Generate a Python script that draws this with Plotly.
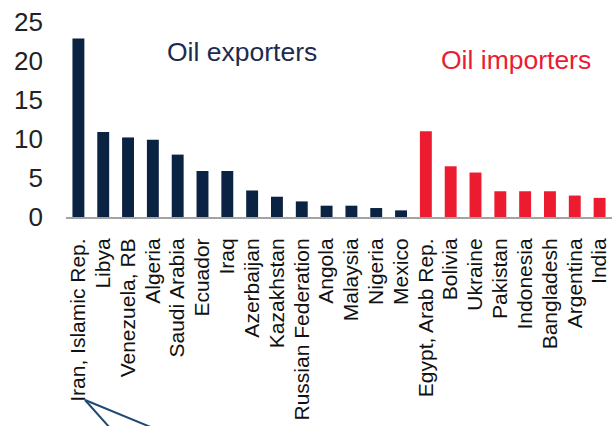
import plotly.graph_objects as go

exporters = ["Iran, Islamic Rep.", "Libya", "Venezuela, RB", "Algeria", "Saudi Arabia",
             "Ecuador", "Iraq", "Azerbaijan", "Kazakhstan", "Russian Federation",
             "Angola", "Malaysia", "Nigeria", "Mexico"]
exporter_values = [22.9, 10.9, 10.2, 9.9, 8.0, 5.9, 5.9, 3.4, 2.6, 2.0, 1.45, 1.45, 1.15, 0.85]

importers = ["Egypt, Arab Rep.", "Bolivia", "Ukraine", "Pakistan", "Indonesia",
             "Bangladesh", "Argentina", "India"]
importer_values = [11.0, 6.5, 5.7, 3.3, 3.3, 3.3, 2.75, 2.45]

y_ticks = [0, 5, 10, 15, 20, 25]

NAVY = "#0b2343"
RED = "#ec1b30"
W, H = 616, 426
ML, MR, MT, MB = 66, 4, 22, 209

categories = exporters + importers

fig = go.Figure()
fig.add_trace(go.Bar(x=exporters, y=exporter_values, marker_color=NAVY,
                     marker_line_width=0, name="Oil exporters"))
fig.add_trace(go.Bar(x=importers, y=importer_values, marker_color=RED,
                     marker_line_width=0, name="Oil importers"))

fig.update_layout(
    width=W, height=H,
    margin=dict(l=ML, r=MR, t=MT, b=MB, pad=0),
    paper_bgcolor="white", plot_bgcolor="white",
    showlegend=False, barmode="group", bargap=0.52,
    font=dict(family="Liberation Sans, Arial, sans-serif", color="#222222"),
)
fig.update_xaxes(
    categoryorder="array", categoryarray=categories,
    tickmode="array", tickvals=categories, ticktext=categories,
    tickangle=-90, tickfont=dict(size=21, color="#111111"),
    showline=True, linecolor="#a3a3a3", linewidth=2,
    ticks="", ticklabelstandoff=11, showgrid=False,
)
fig.update_yaxes(
    range=[0, 25], tickvals=y_ticks, ticktext=[str(v) for v in y_ticks],
    tickfont=dict(size=26, color="#222222"),
    showgrid=False, zeroline=False, showline=False, ticks="",
    ticklabelstandoff=22,
)

# convert pixel positions into paper coordinates for text and the decorative callout
pw, ph = W - ML - MR, H - MT - MB
def px(x):
    return (x - ML) / pw
def py(y):
    return (H - MB - y) / ph

fig.add_annotation(text="Oil exporters", x=px(242), y=py(52), xref="paper", yref="paper",
                   xanchor="center", yanchor="middle",
                   showarrow=False, font=dict(size=26.5, color="#1c2b4f"))
fig.add_annotation(text="Oil importers", x=px(516), y=py(60), xref="paper", yref="paper",
                   xanchor="center", yanchor="middle",
                   showarrow=False, font=dict(size=26.5, color="#ea1c33"))

for ex in (110, 153):
    fig.add_shape(type="line", xref="paper", yref="paper",
                  x0=px(85), y0=py(400), x1=px(ex), y1=py(428),
                  line=dict(color="#1f4a73", width=2))

fig.write_html("out.html")
